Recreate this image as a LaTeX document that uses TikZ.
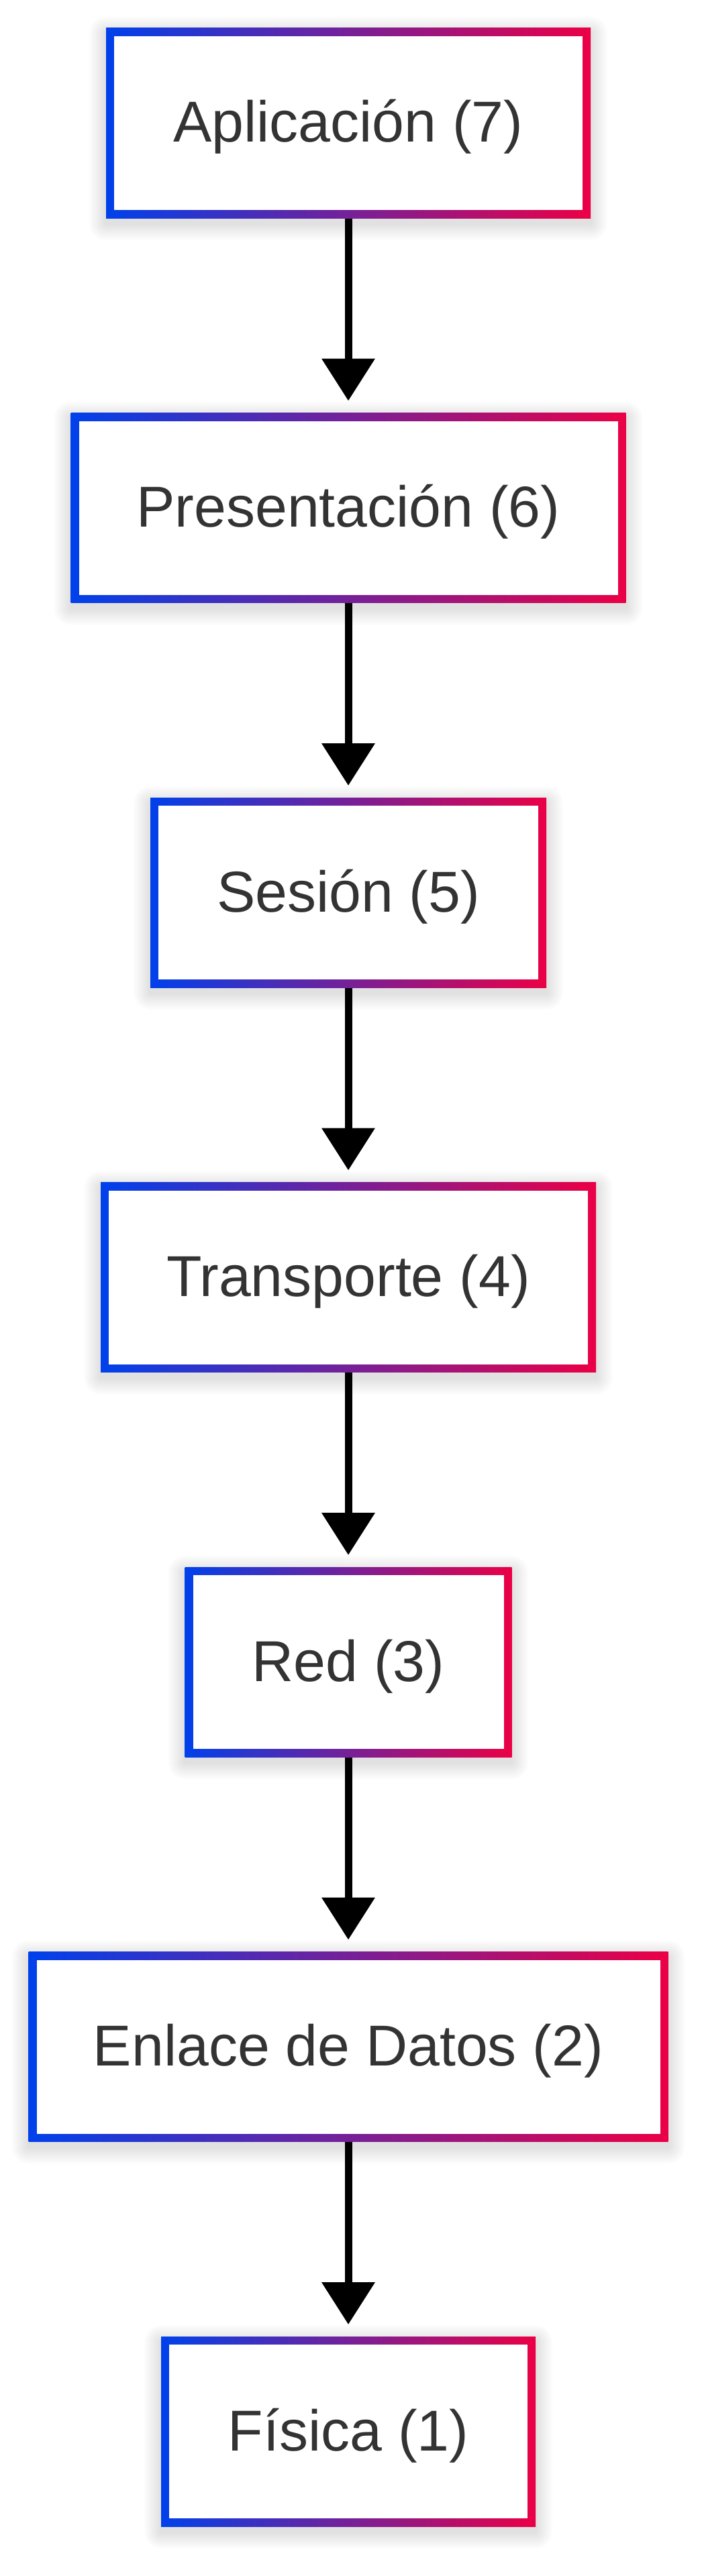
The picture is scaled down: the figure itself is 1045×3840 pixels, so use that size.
\documentclass[tikz,border=0pt]{standalone}
\usepackage{fontspec}
\setmainfont{Liberation Sans}
\usetikzlibrary{arrows.meta,backgrounds,calc}
\definecolor{gblue}{RGB}{0,65,235}
\definecolor{gred}{RGB}{235,0,70}
\definecolor{txtgray}{HTML}{333333}
\tikzset{
  osilayer/.style={minimum height=283pt, inner sep=0pt, outer sep=0pt,
    left color=gblue, right color=gred, text=txtgray,
    font=\fontsize{86}{100}\selectfont, text height=70pt, text depth=13pt,
    path picture={\fill[white] ($(path picture bounding box.north west)+(12,12)$) rectangle ($(path picture bounding box.south east)+(-12,-12)$);}},
  flowarrow/.style={line width=11pt, -{Triangle[width=77pt,length=63pt]}, shorten >=18pt}
}
\begin{document}
\begin{tikzpicture}[x=1pt,y=-1pt]
\useasboundingbox (0,0) rectangle (1045,3840);
\node[osilayer, minimum width=722pt] (L7) at (519,183.5) {Aplicación (7)};
\node[osilayer, minimum width=827pt] (L6) at (519,757) {Presentación (6)};
\node[osilayer, minimum width=590pt] (L5) at (519,1330.5) {Sesión (5)};
\node[osilayer, minimum width=738pt] (L4) at (519,1904) {Transporte (4)};
\node[osilayer, minimum width=487pt] (L3) at (519,2477.5) {Red (3)};
\node[osilayer, minimum width=953pt] (L2) at (519,3051) {Enlace de Datos (2)};
\node[osilayer, minimum width=558pt] (L1) at (519,3624.5) {Física (1)};
\begin{scope}[on background layer]
  \fill[white] (0,0) rectangle (1045,3840);
  \foreach \n in {L7,L6,L5,L4,L3,L2,L1}{
    \foreach \k in {1,...,10}{
      \fill[black, opacity=0.012, rounded corners=2.5*\k]
        ($(\n.north west)+(-2.5*\k,8-2.5*\k)$) rectangle ($(\n.south east)+(2.5*\k,8+2.5*\k)$);
    }
  }
  \draw[flowarrow] (L7.south) -- (L6.north);
  \draw[flowarrow] (L6.south) -- (L5.north);
  \draw[flowarrow] (L5.south) -- (L4.north);
  \draw[flowarrow] (L4.south) -- (L3.north);
  \draw[flowarrow] (L3.south) -- (L2.north);
  \draw[flowarrow] (L2.south) -- (L1.north);
\end{scope}
\end{tikzpicture}
\end{document}
